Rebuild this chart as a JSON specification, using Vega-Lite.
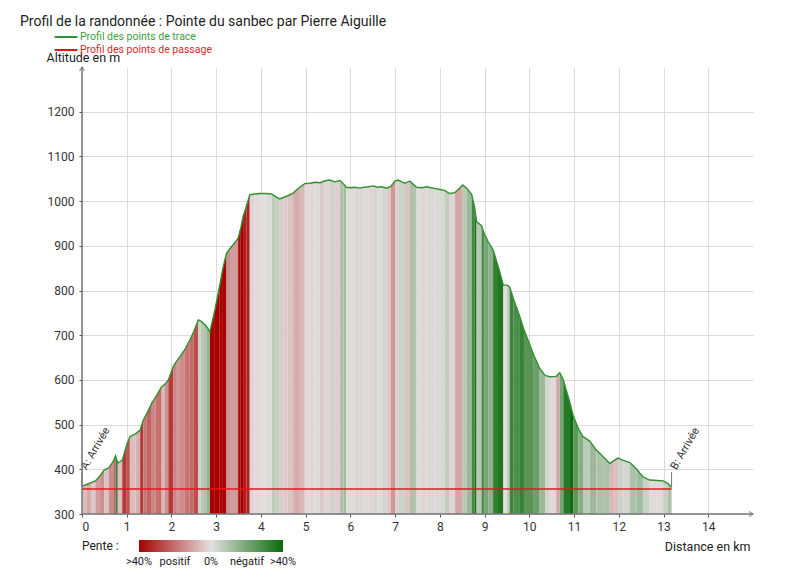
{
  "$schema": "https://vega.github.io/schema/vega-lite/v6.json",
  "width": 671,
  "height": 447,
  "autosize": {"type": "none"},
  "padding": {"left": 82, "top": 67, "right": 47, "bottom": 63},
  "background": "white",
  "title": {"text": "Profil de la randonnée : Pointe du sanbec par Pierre Aiguille", "anchor": "start", "frame": "group", "dx": -62, "dy": 1, "fontSize": 14, "fontWeight": "normal", "font": "Roboto", "color": "#222", "offset": 2},
  "config": {
    "font": "Roboto",
    "view": {"stroke": null},
    "axis": {"gridColor": "#dcdcdc", "gridWidth": 1, "tickColor": "#555", "tickSize": 3, "labelFontSize": 12, "labelColor": "#333", "labelFont": "Roboto", "titleFont": "Roboto", "titleFontSize": 12.5, "titleFontWeight": "normal", "titleColor": "#222", "domain": false}
  },
  "datasets": {
    "trace": [
      {"d": 0.00, "a": 362, "p": 6}, {"d": 0.10, "a": 366, "p": 10}, {"d": 0.20, "a": 370, "p": 4}, {"d": 0.30, "a": 374, "p": 12},
      {"d": 0.40, "a": 385, "p": 14}, {"d": 0.50, "a": 399, "p": 5}, {"d": 0.60, "a": 403, "p": 15}, {"d": 0.70, "a": 418, "p": 22},
      {"d": 0.75, "a": 430, "p": -32}, {"d": 0.80, "a": 414, "p": 6}, {"d": 0.90, "a": 420, "p": 30}, {"d": 1.00, "a": 455, "p": 25},
      {"d": 1.07, "a": 473, "p": 6}, {"d": 1.20, "a": 480, "p": 8}, {"d": 1.30, "a": 488, "p": 30}, {"d": 1.37, "a": 510, "p": 19},
      {"d": 1.45, "a": 525, "p": 22}, {"d": 1.56, "a": 548, "p": 16}, {"d": 1.65, "a": 562, "p": 20}, {"d": 1.78, "a": 585, "p": 7},
      {"d": 1.85, "a": 590, "p": 14}, {"d": 1.93, "a": 600, "p": 30}, {"d": 2.04, "a": 630, "p": 17}, {"d": 2.10, "a": 640, "p": 13},
      {"d": 2.19, "a": 652, "p": 15}, {"d": 2.30, "a": 668, "p": 19}, {"d": 2.41, "a": 689, "p": 21}, {"d": 2.50, "a": 708, "p": 26},
      {"d": 2.60, "a": 734, "p": -4}, {"d": 2.65, "a": 732, "p": -8}, {"d": 2.71, "a": 727, "p": -10}, {"d": 2.78, "a": 720, "p": -15},
      {"d": 2.86, "a": 708, "p": 40}, {"d": 2.97, "a": 756, "p": 45}, {"d": 3.08, "a": 812, "p": 45}, {"d": 3.15, "a": 850, "p": 40},
      {"d": 3.23, "a": 883, "p": 14}, {"d": 3.31, "a": 894, "p": 12}, {"d": 3.40, "a": 905, "p": 13}, {"d": 3.49, "a": 917, "p": 38},
      {"d": 3.55, "a": 940, "p": 45}, {"d": 3.60, "a": 965, "p": 35}, {"d": 3.68, "a": 990, "p": 34}, {"d": 3.75, "a": 1014, "p": 2},
      {"d": 3.85, "a": 1016, "p": 1}, {"d": 3.98, "a": 1017, "p": 0}, {"d": 4.10, "a": 1017, "p": -1}, {"d": 4.24, "a": 1016, "p": -7},
      {"d": 4.33, "a": 1010, "p": -6}, {"d": 4.42, "a": 1005, "p": 4}, {"d": 4.50, "a": 1008, "p": 4}, {"d": 4.60, "a": 1012, "p": 5},
      {"d": 4.72, "a": 1018, "p": 9}, {"d": 4.85, "a": 1030, "p": 7}, {"d": 4.98, "a": 1039, "p": 1}, {"d": 5.10, "a": 1040, "p": 2},
      {"d": 5.20, "a": 1042, "p": -1}, {"d": 5.32, "a": 1041, "p": 4}, {"d": 5.42, "a": 1045, "p": 2}, {"d": 5.54, "a": 1047, "p": -4},
      {"d": 5.65, "a": 1043, "p": 3}, {"d": 5.77, "a": 1046, "p": -10}, {"d": 5.85, "a": 1038, "p": -12}, {"d": 5.91, "a": 1031, "p": -1},
      {"d": 6.00, "a": 1030, "p": 1}, {"d": 6.10, "a": 1031, "p": -2}, {"d": 6.21, "a": 1029, "p": 2}, {"d": 6.30, "a": 1031, "p": 1},
      {"d": 6.40, "a": 1032, "p": 2}, {"d": 6.51, "a": 1034, "p": -3}, {"d": 6.60, "a": 1031, "p": 1}, {"d": 6.70, "a": 1032, "p": -3},
      {"d": 6.81, "a": 1029, "p": 4}, {"d": 6.90, "a": 1033, "p": 13}, {"d": 7.00, "a": 1045, "p": 3}, {"d": 7.07, "a": 1047, "p": -5},
      {"d": 7.15, "a": 1043, "p": -4}, {"d": 7.22, "a": 1040, "p": 5}, {"d": 7.33, "a": 1045, "p": -10}, {"d": 7.40, "a": 1038, "p": -9},
      {"d": 7.48, "a": 1031, "p": -1}, {"d": 7.60, "a": 1030, "p": 2}, {"d": 7.70, "a": 1032, "p": -2}, {"d": 7.80, "a": 1030, "p": -2},
      {"d": 7.90, "a": 1028, "p": -2}, {"d": 8.00, "a": 1026, "p": -2}, {"d": 8.10, "a": 1024, "p": -6}, {"d": 8.22, "a": 1017, "p": 2},
      {"d": 8.34, "a": 1019, "p": 10}, {"d": 8.45, "a": 1030, "p": 10}, {"d": 8.51, "a": 1036, "p": -8}, {"d": 8.60, "a": 1029, "p": -13},
      {"d": 8.71, "a": 1015, "p": -30}, {"d": 8.78, "a": 985, "p": -38}, {"d": 8.82, "a": 954, "p": -8}, {"d": 8.93, "a": 945, "p": -28},
      {"d": 9.00, "a": 925, "p": -20}, {"d": 9.08, "a": 909, "p": -16}, {"d": 9.19, "a": 891, "p": -33}, {"d": 9.30, "a": 855, "p": -36},
      {"d": 9.42, "a": 812, "p": 0}, {"d": 9.50, "a": 812, "p": -7}, {"d": 9.56, "a": 808, "p": -31}, {"d": 9.65, "a": 780, "p": -28},
      {"d": 9.79, "a": 741, "p": -32}, {"d": 9.88, "a": 712, "p": -26}, {"d": 9.97, "a": 689, "p": -26}, {"d": 10.10, "a": 655, "p": -22},
      {"d": 10.23, "a": 626, "p": -13}, {"d": 10.35, "a": 610, "p": -3}, {"d": 10.46, "a": 607, "p": 1}, {"d": 10.60, "a": 608, "p": 10},
      {"d": 10.68, "a": 616, "p": -20}, {"d": 10.76, "a": 600, "p": -35}, {"d": 10.91, "a": 548, "p": -40}, {"d": 10.98, "a": 520, "p": -25},
      {"d": 11.10, "a": 490, "p": -17}, {"d": 11.20, "a": 473, "p": -7}, {"d": 11.35, "a": 463, "p": -13}, {"d": 11.50, "a": 443, "p": -10},
      {"d": 11.65, "a": 428, "p": -10}, {"d": 11.80, "a": 413, "p": 7}, {"d": 11.90, "a": 420, "p": 6}, {"d": 11.98, "a": 425, "p": -4},
      {"d": 12.10, "a": 420, "p": -3}, {"d": 12.25, "a": 415, "p": -10}, {"d": 12.40, "a": 400, "p": -12}, {"d": 12.54, "a": 383, "p": -5},
      {"d": 12.69, "a": 376, "p": -1}, {"d": 12.85, "a": 375, "p": -1}, {"d": 12.99, "a": 374, "p": -5}, {"d": 13.10, "a": 368, "p": -10},
      {"d": 13.18, "a": 360, "p": 0}
    ],
    "passage": [
      {"d": 0, "a": 356, "label": "A: Arrivée"},
      {"d": 13.18, "a": 356, "label": "B: Arrivée"}
    ]
  },
  "layer": [
    {
      "data": {"name": "trace"},
      "transform": [
        {"window": [{"op": "lead", "field": "d", "as": "d2"}, {"op": "lead", "field": "a", "as": "a2"}], "sort": [{"field": "d", "order": "ascending"}]},
        {"filter": "isValid(datum.d2)"},
        {"fold": ["d", "d2"], "as": ["kd", "xd"]},
        {"fold": ["a", "a2"], "as": ["ka", "ya"]},
        {"filter": "(datum.kd === 'd') === (datum.ka === 'a')"}
      ],
      "mark": {"type": "area", "strokeWidth": 0},
      "encoding": {
        "x": {"field": "xd", "type": "quantitative", "scale": {"domain": [0, 15], "nice": false, "zero": false},
          "axis": {"title": "Distance en km", "values": [0,1,2,3,4,5,6,7,8,9,10,11,12,13,14], "format": "d", "grid": true, "labelPadding": 4, "titleX": 668, "titleY": 32, "titleAlign": "right", "titleBaseline": "middle"}},
        "y": {"field": "ya", "type": "quantitative", "scale": {"domain": [300, 1300], "nice": false, "zero": false},
          "axis": {"title": "Altitude en m", "values": [300,400,500,600,700,800,900,1000,1100,1200], "format": "d", "grid": true, "labelPadding": 5, "titleAngle": 0, "titleX": -36, "titleY": -10, "titleAlign": "left", "titleBaseline": "middle"}},
        "y2": {"datum": 300},
        "detail": {"field": "d", "type": "quantitative"},
        "color": {"field": "p", "type": "quantitative",
          "scale": {"domain": [40, 0, -40], "range": ["#a80000", "#e3dfdf", "#0b6b0b"], "interpolate": "rgb", "clamp": true},
          "legend": {"title": "Pente :", "orient": "none", "legendX": 0, "legendY": 473, "direction": "horizontal", "titleOrient": "left", "titlePadding": 20, "titleFontSize": 12, "titleFontWeight": "normal", "titleColor": "#222", "titleBaseline": "middle",
            "gradientLength": 144, "gradientThickness": 12, "values": [40, 20, 0, -20, -40], "labelOverlap": false, "labelFontSize": 11, "labelColor": "#222", "labelOffset": 4,
            "labelExpr": "datum.value == 0 ? '0%' : datum.value == 20 ? 'positif' : datum.value == -20 ? 'négatif' : '>40%'",
            "encode": {"labels": {"update": {"align": {"value": "center"}}}}}}
      }
    },
    {
      "data": {"name": "trace"},
      "mark": {"type": "line", "strokeWidth": 1.4},
      "encoding": {
        "x": {"field": "d", "type": "quantitative"},
        "y": {"field": "a", "type": "quantitative"},
        "stroke": {"datum": "Profil des points de trace", "type": "nominal",
          "scale": {"domain": ["Profil des points de trace", "Profil des points de passage"], "range": ["#2f922f", "#e8141c"]},
          "legend": {"title": null, "orient": "none", "legendX": -23, "legendY": -37, "symbolType": "M-2,0H2", "symbolStrokeWidth": 2, "symbolSize": 130, "labelFontSize": 10.5, "labelOffset": 7, "rowPadding": -2, "padding": 0,
            "encode": {"labels": {"update": {"fill": {"signal": "datum.label === 'Profil des points de trace' ? '#3b9e3b' : '#e02828'"}}}}}}
      }
    },
    {
      "data": {"name": "passage"},
      "mark": {"type": "line", "strokeWidth": 1.6},
      "encoding": {
        "x": {"field": "d", "type": "quantitative"},
        "y": {"field": "a", "type": "quantitative"},
        "stroke": {"datum": "Profil des points de passage", "type": "nominal"}
      }
    },
    {
      "data": {"name": "passage"},
      "mark": {"type": "rule", "color": "#777", "strokeWidth": 1, "yOffset": -2, "y2Offset": -17},
      "encoding": {
        "x": {"field": "d", "type": "quantitative"},
        "y": {"field": "a", "type": "quantitative"},
        "y2": {"field": "a"}
      }
    },
    {
      "data": {"name": "passage"},
      "mark": {"type": "text", "angle": -60, "align": "left", "baseline": "middle", "yOffset": -20, "xOffset": 2, "fontSize": 11, "color": "#333", "font": "Roboto"},
      "encoding": {
        "x": {"field": "d", "type": "quantitative"},
        "y": {"field": "a", "type": "quantitative"},
        "text": {"field": "label"}
      }
    },
    {
      "data": {"values": [{}]},
      "mark": {"type": "rule", "color": "#777", "strokeWidth": 1.5},
      "encoding": {"x": {"datum": 0}, "x2": {"datum": 15}, "y": {"datum": 300}}
    },
    {
      "data": {"values": [{}]},
      "mark": {"type": "rule", "color": "#777", "strokeWidth": 1.5},
      "encoding": {"x": {"datum": 0}, "y": {"datum": 300}, "y2": {"datum": 1300}}
    },
    {
      "data": {"values": [{}]},
      "mark": {"type": "point", "shape": "M-1.6,-1L0,0L-1.6,1", "size": 25, "filled": false, "stroke": "#777", "strokeWidth": 1.3},
      "encoding": {"x": {"datum": 15}, "y": {"datum": 300}}
    },
    {
      "data": {"values": [{}]},
      "mark": {"type": "point", "shape": "M-1,1.6L0,0L1,1.6", "size": 25, "filled": false, "stroke": "#777", "strokeWidth": 1.3},
      "encoding": {"x": {"datum": 0}, "y": {"datum": 1300}}
    }
  ]
}
